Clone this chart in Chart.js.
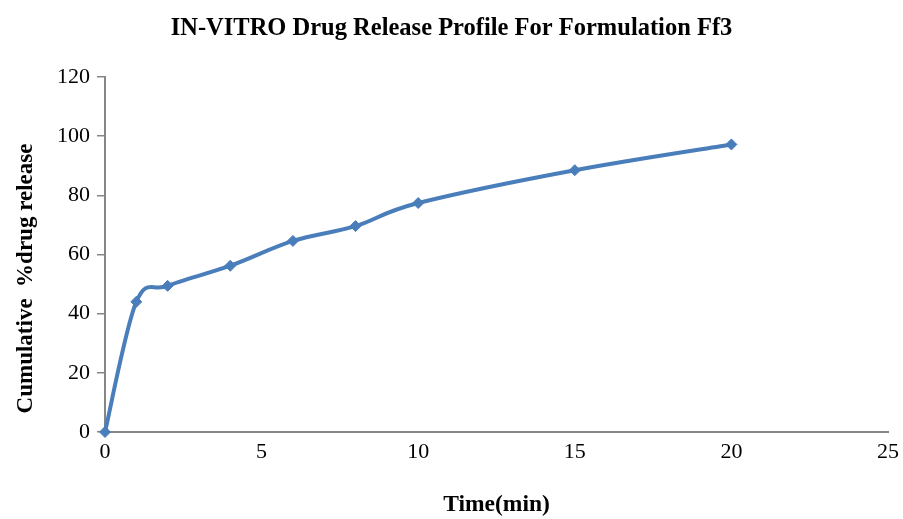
<!DOCTYPE html>
<html>
<head>
<meta charset="utf-8">
<script src="https://cdn.jsdelivr.net/npm/chart.js@4/dist/chart.umd.min.js"></script>
<style>
  html, body { margin: 0; padding: 0; background: #ffffff; }
  #wrap { width: 903px; height: 519px; position: relative; }
</style>
</head>
<body>
<div id="wrap"><canvas id="release"></canvas></div>
<script>
// Sampling times (min) and cumulative % drug released for formulation Ff3
const timeMin = [0, 1, 2, 4, 6, 8, 10, 15, 20];
const releasePct = [0, 44, 49.4, 56.2, 64.6, 69.6, 77.4, 88.5, 97.2];

// Axis ranges and tick spacing
const xTicks = [0, 5, 10, 15, 20, 25];
const yTicks = [0, 20, 40, 60, 80, 100, 120];

const chartTitle = 'IN-VITRO Drug Release Profile For Formulation Ff3';
const xTitle = 'Time(min)';
const yTitle = 'Cumulative  %drug release';

const SERIF = '"Liberation Serif", "Times New Roman", serif';
const LINE_BLUE = '#4a7ebb';
const AXIS_GREY = '#868686';

const points = timeMin.map((t, i) => ({ x: t, y: releasePct[i] }));

// Uniform Catmull-Rom smoothing: each point's Bezier handles follow the
// chord between its neighbours, scaled by a fixed factor.
const SMOOTH = 1 / 6;
const uniformSpline = {
  id: 'uniformSpline',
  beforeDatasetDraw(chart, args) {
    const line = args.meta.dataset;
    if (!line) return;
    if (typeof line.updateControlPoints === 'function') {
      line.updateControlPoints(chart.chartArea, 'x');
    }
    const pts = args.meta.data;
    const n = pts.length;
    for (let i = 0; i < n; i++) {
      const p = pts[i];
      const prev = pts[Math.max(i - 1, 0)];
      const next = pts[Math.min(i + 1, n - 1)];
      const tx = (next.x - prev.x) * SMOOTH;
      const ty = (next.y - prev.y) * SMOOTH;
      p.cp1x = p.x - tx; p.cp1y = p.y - ty;
      p.cp2x = p.x + tx; p.cp2y = p.y + ty;
    }
    line._path = undefined;
  }
};

// Rotated y-axis caption, drawn beside the tick labels
const yCaption = {
  id: 'yCaption',
  afterDraw(chart) {
    const { ctx, chartArea } = chart;
    ctx.save();
    ctx.font = 'bold 23px ' + SERIF;
    ctx.fillStyle = '#000';
    ctx.textAlign = 'center';
    ctx.textBaseline = 'alphabetic';
    ctx.translate(32, (chartArea.top + chartArea.bottom) / 2 + 24);
    ctx.rotate(-Math.PI / 2);
    ctx.fillText(yTitle, 0, 0);
    ctx.restore();
  }
};

new Chart(document.getElementById('release'), {
  type: 'line',
  data: {
    datasets: [{
      data: points,
      borderColor: LINE_BLUE,
      backgroundColor: LINE_BLUE,
      borderWidth: 4,
      tension: 0.4,
      pointStyle: 'rectRot',
      pointRadius: 5.5,
      pointHoverRadius: 5.5,
      pointBorderWidth: 1,
      pointBorderColor: LINE_BLUE,
      pointBackgroundColor: LINE_BLUE,
      clip: false,
      fill: false
    }]
  },
  options: {
    responsive: true,
    maintainAspectRatio: false,
    animation: false,
    events: [],
    layout: { padding: { left: 15, right: 15, top: 0, bottom: 0 } },
    plugins: {
      legend: { display: false },
      tooltip: { enabled: false },
      title: {
        display: true,
        text: chartTitle,
        color: '#000',
        font: { family: SERIF, size: 24.5, weight: 'bold' },
        padding: { top: 14, bottom: 33.6 }
      }
    },
    scales: {
      x: {
        type: 'linear',
        min: xTicks[0],
        max: xTicks[xTicks.length - 1],
        afterBuildTicks(scale) { scale.ticks = xTicks.map(v => ({ value: v })); },
        afterFit(scale) { scale.height = 87; },
        border: { display: true, color: AXIS_GREY, width: 2 },
        grid: {
          display: true,
          drawOnChartArea: false,
          drawTicks: true,
          tickLength: 3,
          tickColor: 'rgba(0,0,0,0)',
          color: AXIS_GREY
        },
        ticks: {
          color: '#000',
          padding: 4,
          maxRotation: 0,
          font: { family: SERIF, size: 22 }
        },
        title: {
          display: true,
          text: xTitle,
          color: '#000',
          font: { family: SERIF, size: 23.5, weight: 'bold' },
          padding: { top: 0, bottom: 0 }
        }
      },
      y: {
        type: 'linear',
        min: yTicks[0],
        max: yTicks[yTicks.length - 1],
        afterBuildTicks(scale) { scale.ticks = yTicks.map(v => ({ value: v })); },
        afterFit(scale) { scale.width = 90; },
        border: { display: true, color: AXIS_GREY, width: 2 },
        grid: { display: true, drawOnChartArea: false, drawTicks: true, tickLength: 8, color: AXIS_GREY, lineWidth: 1.5 },
        ticks: {
          color: '#000',
          padding: 7,
          font: { family: SERIF, size: 22 }
        }
      }
    }
  },
  plugins: [uniformSpline, yCaption]
});
</script>
</body>
</html>
